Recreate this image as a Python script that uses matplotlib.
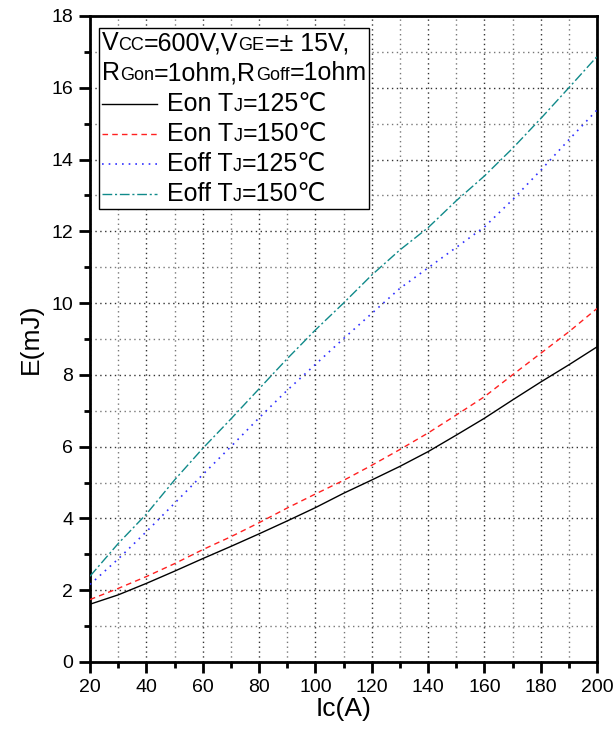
import matplotlib
matplotlib.use('Agg')
import matplotlib.pyplot as plt
from matplotlib.offsetbox import TextArea, HPacker, VPacker, DrawingArea, AnchoredOffsetbox
from matplotlib.lines import Line2D
from matplotlib.ticker import MultipleLocator

# ---------------- data ----------------
ic = [20, 30, 40, 50, 60, 70, 80, 90, 100, 110, 120, 130, 140, 150, 160, 170, 180, 190, 200]
eon_125 = [1.61, 1.87, 2.19, 2.53, 2.88, 3.22, 3.57, 3.93, 4.30, 4.70, 5.07, 5.45, 5.86,
           6.32, 6.79, 7.30, 7.80, 8.28, 8.78]
eon_150 = [1.74, 2.05, 2.38, 2.74, 3.13, 3.49, 3.88, 4.29, 4.68, 5.06, 5.48, 5.92, 6.38,
           6.88, 7.39, 8.00, 8.60, 9.20, 9.85]
eoff_125 = [2.16, 2.87, 3.63, 4.42, 5.22, 6.00, 6.80, 7.57, 8.29, 9.01, 9.71, 10.41, 10.98,
            11.55, 12.12, 12.88, 13.70, 14.55, 15.38]
eoff_150 = [2.39, 3.30, 4.12, 5.07, 5.95, 6.77, 7.61, 8.45, 9.25, 10.00, 10.78, 11.48, 12.10,
            12.85, 13.54, 14.31, 15.14, 16.00, 16.87]

series_names = ["Eon T", "Eon T", "Eoff T", "Eoff T"]
series_temps = ["=125℃", "=150℃", "=125℃", "=150℃"]
cond_line1 = [("V", 1), ("CC", 0), ("=600V,V", 1), ("GE", 0), ("=± 15V,", 1)]
cond_line2 = [("R", 1), ("Gon", 0), ("=1ohm,R", 1), ("Goff", 0), ("=1ohm", 1)]

FAM = ['Liberation Sans', 'DejaVu Sans']
plt.rcParams['font.family'] = FAM

fig = plt.figure(figsize=(6.15, 7.3), dpi=100)
ax = fig.add_axes([90/615, 68/730, 507/615, 646/730])

styles = [
    dict(color='black', linestyle='-', lw=1.0),
    dict(color='#ff2020', linestyle=(0, (4, 3)), lw=1.0),
    dict(color='#3030ff', linestyle=(0, (1, 3)), lw=1.2),
    dict(color='#108a8a', linestyle=(0, (7, 2, 1.5, 2)), lw=1.0),
]
all_series = [eon_125, eon_150, eoff_125, eoff_150]
for s, st in zip(all_series, styles):
    ax.plot(ic, s, **st, zorder=3)

ax.set_xlim(20, 200)
ax.set_ylim(0, 18)
ax.xaxis.set_major_locator(MultipleLocator(20))
ax.xaxis.set_minor_locator(MultipleLocator(10))
ax.yaxis.set_major_locator(MultipleLocator(2))
ax.yaxis.set_minor_locator(MultipleLocator(1))

ax.grid(which='major', linestyle=(0, (1, 2.5)), color='#333333', lw=1.0)
ax.grid(which='minor', linestyle=(0, (1, 2.5)), color='#777777', lw=1.0)
ax.set_axisbelow(True)

for sp in ax.spines.values():
    sp.set_linewidth(2.0)
ax.tick_params(which='major', direction='out', length=8, width=2, labelsize=14, pad=4)
ax.tick_params(which='minor', direction='out', length=4, width=2)

ax.set_xlabel("Ic(A)", fontsize=19, labelpad=1)
ax.set_ylabel("E(mJ)", fontsize=19, labelpad=6)

# ---------------- custom legend ----------------
BIG = 18
SMALL = 13

def rich(parts):
    boxes = [TextArea(t, textprops=dict(fontsize=BIG if big else SMALL, family=FAM))
             for t, big in parts]
    return HPacker(children=boxes, align='baseline', pad=0, sep=0)

rows = [rich(cond_line1), rich(cond_line2)]
for name, temp, st in zip(series_names, series_temps, styles):
    da = DrawingArea(40, 10, 0, 0)
    da.add_artist(Line2D([0, 40], [5, 5], **st))
    txt = rich([(name, 1), ("J", 0), (temp, 1)])
    rows.append(HPacker(children=[da, txt], align='center', pad=0, sep=7))

vbox = VPacker(children=rows, align='left', pad=0, sep=4.5)
anch = AnchoredOffsetbox(loc='upper left', child=vbox, pad=0.2, borderpad=0,
                         frameon=True, bbox_to_anchor=(0.0178, 0.981),
                         bbox_transform=ax.transAxes)
anch.patch.set_edgecolor('black')
anch.patch.set_linewidth(1.0)
anch.patch.set_boxstyle('square', pad=0)
anch.zorder = 5
ax.add_artist(anch)

fig.savefig('out.png', dpi=100)
